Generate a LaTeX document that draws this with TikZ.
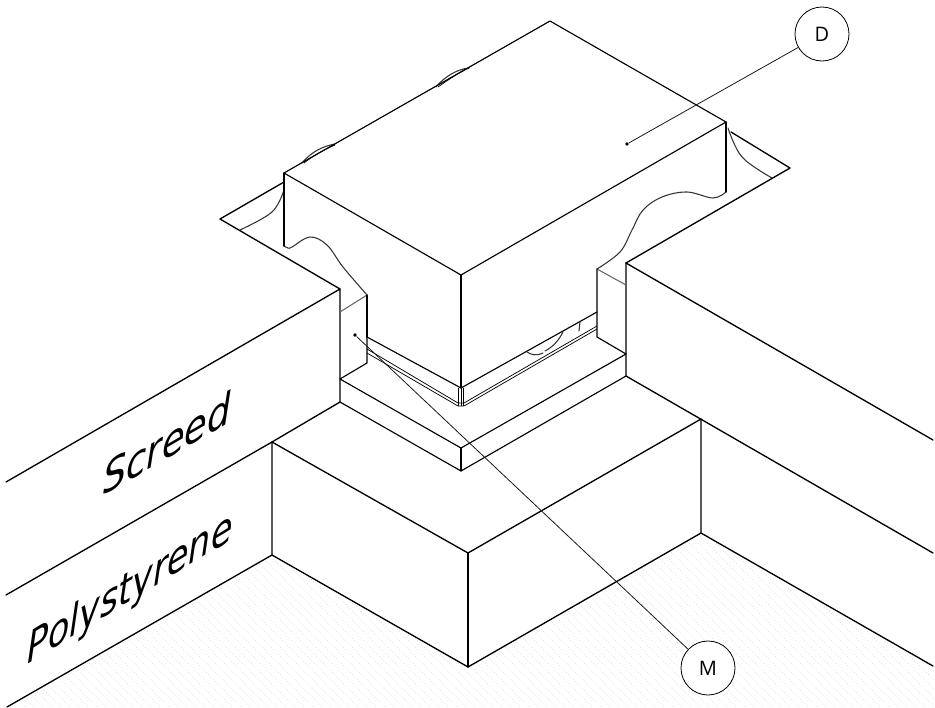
\documentclass[tikz,border=0pt]{standalone}
\usepackage{fontspec}
\setmainfont{DejaVu Sans}
\newfontfamily\labelfont{Open Sans}
\tikzset{
  x=0.75pt,y=-0.75pt,
  main/.style={line width=1pt,black,line cap=round,line join=round},
  box/.style={line width=0.85pt,black,line cap=round,line join=round},
  thinline/.style={line width=0.55pt,black,line join=round},
  softline/.style={line width=0.8pt,black!60,line cap=round},
  curveline/.style={line width=0.8pt,black!80,line cap=round},
  leader/.style={line width=0.6pt,black!90},
  callout/.style={draw=black,line width=0.6pt,circle,minimum size=40.5pt,inner sep=0pt,font=\labelfont\fontsize{15}{16}\selectfont,fill=white},
  leaderdot/.style={circle,fill=black,inner sep=0pt,minimum size=2.8pt},
  isotext/.style={transform shape,inner sep=0pt,font=\fontsize{32}{36}\selectfont\itshape},
  hatch/.style={line width=0.35pt,black!13,dash pattern=on 0.8pt off 1.6pt}
}
\begin{document}
\begin{tikzpicture}
\useasboundingbox (0,0) rectangle (935,707);
\fill[white] (0,0) rectangle (935,707);
% floor texture
\begin{scope}
\clip (7,707) -- (272,555) -- (468,667) -- (701,533) -- (935,668) -- (935,707) -- cycle;
\foreach \k in {-200,-191,...,935}
  \draw[hatch] (\k,500) -- (\k+260,760);
\end{scope}
% screed and polystyrene, left
\draw[main] (6,482) -- (340,289) -- (340,402) -- (272,442) -- (6,595);
\draw[main] (272,442) -- (272,555) -- (7,707);
% screed and polystyrene, right
\draw[main] (626,263) -- (933,440);
\draw[main] (626,263) -- (626,376) -- (933,553);
\draw[main] (701,419) -- (701,533) -- (933,666);
% polystyrene front block
\draw[main] (272,442) -- (468,553) -- (701,419);
\draw[main] (272,555) -- (468,667) -- (701,533);
\draw[main] (468,553) -- (468,667);
% plate
\draw[box] (340,379) -- (461,448) -- (626,354);
\draw[box] (340,402) -- (461,471) -- (626,376);
\draw[box] (461,448) -- (461,471);
% flanges
\draw[main] (284,182) -- (220,219) -- (340,289);
\draw[main] (731,132) -- (790,168) -- (626,263);
% walls under the flange
\draw[softline] (340,312) -- (367,295);
\draw[softline] (597,269) -- (626,285);
\draw[box] (367,295) -- (367,337);
\draw[box] (367,337) -- (367,363) -- (340,379);
\draw[box] (597,269) -- (597,337) -- (626,354);
% curved edges
\draw[curveline] plot[smooth,tension=0.6] coordinates {(284,246) (288,248) (292,247) (310,237) (327,245) (343,267) (367,295)};
\draw[curveline] plot[smooth,tension=0.6] coordinates {(726,192) (713,198) (687,192) (662,197) (643,210) (632,230) (620,252) (597,269)};
\draw[curveline] plot[smooth,tension=0.6] coordinates {(284,190) (272,212) (240,230)};
\draw[curveline] plot[smooth,tension=0.6] coordinates {(728,128) (742,157) (772,178)};
\draw[curveline] (302,163) .. controls (312,151) and (324,146) .. (335,144);
\draw[thinline] (304,163) .. controls (314,155) and (324,150) .. (335,145);
\draw[curveline] (436,87) .. controls (445,76) and (458,69) .. (469,68);
\draw[thinline] (438,87) .. controls (448,80) and (458,73) .. (469,68);
% main box
\draw[box] (550,21) -- (726,122) -- (461,275) -- (284,173) -- cycle;
\draw[box] (461,275) -- (461,388);
\draw[box] (284,173) -- (284,246);
\draw[box] (726,122) -- (726,192);
\draw[box] (367,337) -- (461,388) -- (597,312);
% double line at the foot of the box
\draw[thinline] (367,349) -- (458,403) -- (464,403) -- (597,326);
\draw[thinline] (367,353) -- (458,406) -- (464,406) -- (597,329);
\draw[thinline] (458,388) -- (458,406) (461,388) -- (461,406) (463.5,388) -- (463.5,406);
% details in the box face
\draw[curveline] (527,352) .. controls (531,355) and (537,356) .. (543,353);
\draw[curveline] (545,351) .. controls (553,347) and (559,340) .. (563,332);
\draw[curveline] (580,322) -- (579,331);
% texts
\begin{scope}[shift={(167,443)},cm={0.866,0.5,0,1,(0,0)}]
\node[isotext] (screed) at (0,0) {Screed};
\end{scope}
\begin{scope}[shift={(130,590)},cm={0.82,0.5,0,1,(0,0)}]
\node[isotext] (poly) at (0,0) {Polystyrene};
\end{scope}
% callouts
\node[leaderdot] (dotD) at (627,144) {};
\node[leaderdot] (dotM) at (355,335) {};
\node[callout] (D) at (822,34) {D};
\node[callout] (M) at (708,668) {M};
\draw[leader] (dotD) -- (D);
\draw[leader] (dotM) -- (M);
\end{tikzpicture}
\end{document}
